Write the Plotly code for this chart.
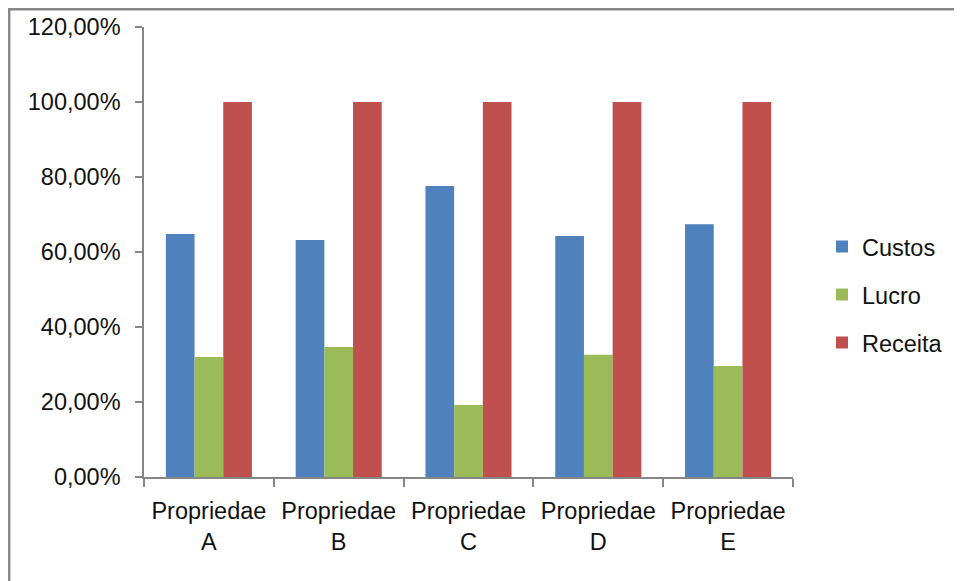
import plotly.graph_objects as go

categories = ["Propriedae<br>A", "Propriedae<br>B", "Propriedae<br>C", "Propriedae<br>D", "Propriedae<br>E"]
custos = [64.8, 63.2, 77.6, 64.3, 67.4]
lucro = [32.0, 34.7, 19.2, 32.6, 29.6]
receita = [100.0, 100.0, 100.0, 100.0, 100.0]

series = [("Custos", custos, "#4F81BD"), ("Lucro", lucro, "#9BBB59"), ("Receita", receita, "#C0504D")]

fig = go.Figure()
for name, vals, color in series:
    fig.add_trace(go.Bar(x=categories, y=vals, name=name, legendgroup=name,
                         marker=dict(color=color, line=dict(width=0))))

# page body has an 8px margin; compensate so the screenshot lines up
OFF = 8
W, H = 962, 581
L, R, T, B = 144 - OFF, 169 + OFF, 27 - OFF, 103.5 + OFF
pw = W - L - R
ph = H - T - B

def px_to_paper_x(px):
    return (px - OFF - L) / pw

def px_to_paper_y(py):
    return (H - B - (py - OFF)) / ph

fig.update_layout(
    width=W, height=H, autosize=False,
    margin=dict(l=L, r=R, t=T, b=B, pad=0, autoexpand=False),
    paper_bgcolor="white", plot_bgcolor="white",
    barmode="group", bargap=0.337, bargroupgap=0,
    separators=",.",
    font=dict(family="Liberation Sans", size=23.5, color="#111111"),
    showlegend=True,
    legend=dict(x=px_to_paper_x(822), y=px_to_paper_y(295), xanchor="left", yanchor="middle",
                font=dict(size=23.5), tracegroupgap=14.5, bgcolor="rgba(0,0,0,0)",
                traceorder="grouped"),
    xaxis=dict(showline=True, linecolor="#868686", linewidth=1.5, ticks="outside",
               tickson="boundaries", ticklen=8, tickcolor="#868686", tickwidth=1.5,
               ticklabelstandoff=12, automargin=False,
               showgrid=False, zeroline=False, fixedrange=True),
    yaxis=dict(range=[0, 120], dtick=20, tickformat=".2f", ticksuffix="%",
               showline=True, linecolor="#868686", linewidth=1.5, ticks="outside",
               ticklen=7, tickcolor="#868686", tickwidth=1.5, ticklabelstandoff=10,
               automargin=False,
               showgrid=False, zeroline=False, fixedrange=True),
    shapes=[dict(type="rect", xref="paper", yref="paper",
                 x0=px_to_paper_x(9.2), x1=px_to_paper_x(1000),
                 y0=px_to_paper_y(620), y1=px_to_paper_y(9.2),
                 line=dict(color="#898989", width=2.5), fillcolor="rgba(0,0,0,0)", layer="below")],
)

fig.write_html("out.html")
